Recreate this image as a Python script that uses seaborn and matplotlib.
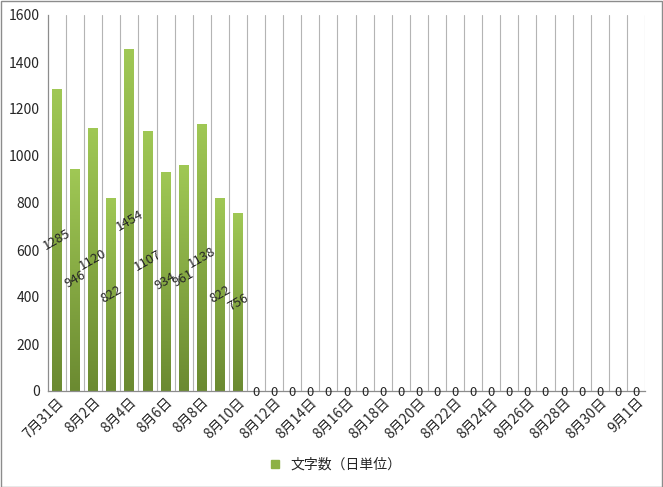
import numpy as np
import pandas as pd
import matplotlib
matplotlib.use("Agg")
import matplotlib.pyplot as plt
import seaborn as sns
from matplotlib.lines import Line2D
from matplotlib.colors import LinearSegmentedColormap

days = ["7月31日"] + [f"8月{d}日" for d in range(1, 32)] + ["9月1日"]
values = [1285, 946, 1120, 822, 1454, 1107, 934, 961, 1138, 822, 756] + [0] * 22
series_name = "文字数（日単位）"

sns.set_theme(style="white")
plt.rcParams["font.family"] = ["Noto Sans CJK JP", "DejaVu Sans"]

df = pd.DataFrame({"day": days, "value": values})

fig = plt.figure(figsize=(6.63, 4.87), dpi=100)
ax = fig.add_axes([48 / 663, 1 - 391 / 487, (645 - 48) / 663, (391 - 15) / 487])

sns.barplot(data=df, x="day", y="value", color="#8cb144", width=0.55, ax=ax,
            saturation=1)

cmap = LinearSegmentedColormap.from_list("g", ["#6b8a31", "#a0c855"])
grad = np.linspace(0, 1, 256).reshape(-1, 1)
for p in ax.patches:
    h = p.get_height()
    if h <= 0:
        continue
    x0 = p.get_x()
    w = p.get_width()
    im = ax.imshow(grad, cmap=cmap, aspect="auto", origin="lower",
                   extent=[x0, x0 + w, 0, h], zorder=2)
    im.set_clip_path(p)
    p.set_facecolor("none")
    p.set_edgecolor("none")

n = len(days)
for i in range(n):
    ax.axvline(i + 0.5, color="#b4b4b4", lw=0.8, zorder=0)

ax.set_xlim(-0.5, n - 0.5)
ax.set_ylim(0, 1600)
ax.set_yticks(range(0, 1601, 200))
ax.set_xticks(range(0, n, 2))
ax.set_xticklabels([days[i] for i in range(0, n, 2)], rotation=45, ha="right",
                   rotation_mode="anchor", fontsize=10)
ax.tick_params(axis="y", labelsize=10, length=0, pad=6)
ax.tick_params(axis="x", length=0, pad=3)
ax.set_xlabel("")
ax.set_ylabel("")
for s in ["top", "right"]:
    ax.spines[s].set_visible(False)
for s in ["left", "bottom"]:
    ax.spines[s].set_color("#8c8c8c")
    ax.spines[s].set_linewidth(0.9)

for i, v in enumerate(values):
    if v > 0:
        ax.text(i, v / 2, str(v), rotation=30, ha="center", va="center",
                fontsize=9.5, zorder=5)
    else:
        ax.text(i, -8, str(v), ha="center", va="center", fontsize=9.5, zorder=5)

handle = Line2D([], [], marker="s", color="#8cb144", linestyle="none", markersize=6)
fig.legend([handle], [series_name], loc="center", bbox_to_anchor=(0.5, 1 - 465 / 487),
           frameon=False, fontsize=10, handletextpad=0.1)

fig.patches.append(plt.Rectangle((0.001, 0.001), 0.997, 0.997, transform=fig.transFigure,
                                 fill=False, edgecolor="#8c8c8c", lw=1))

fig.savefig("out.png", dpi=100)
